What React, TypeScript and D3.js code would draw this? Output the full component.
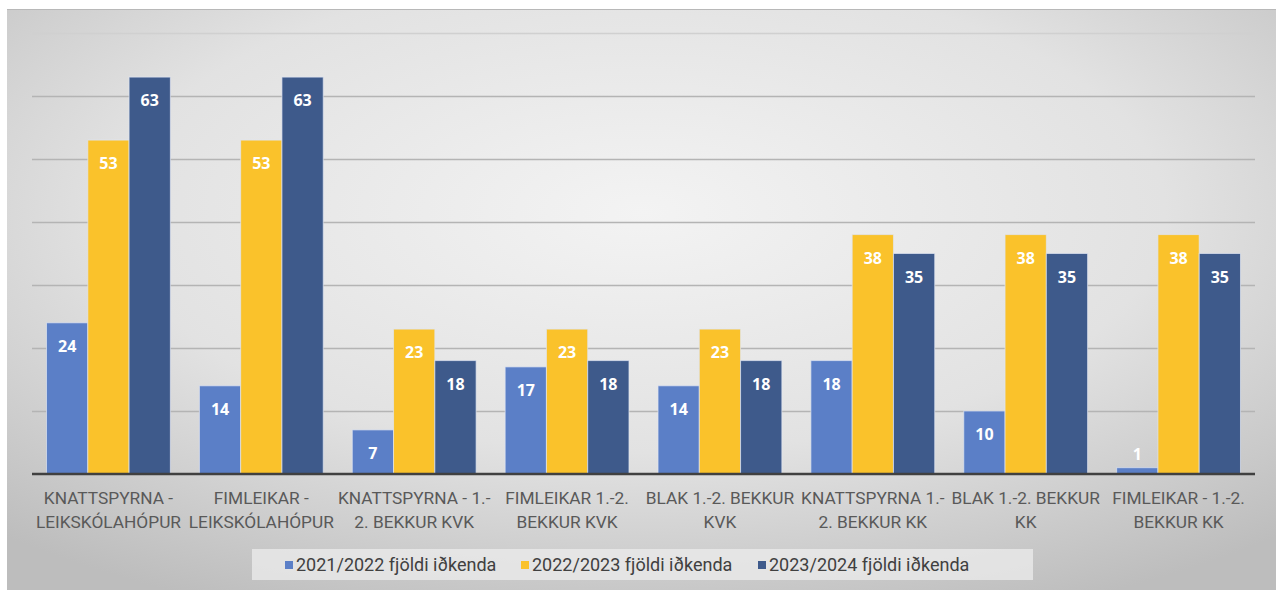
import React from "react";
import * as d3 from "d3";

const categories: string[][] = [
  ["KNATTSPYRNA -", "LEIKSKÓLAHÓPUR"],
  ["FIMLEIKAR -", "LEIKSKÓLAHÓPUR"],
  ["KNATTSPYRNA - 1.-", "2. BEKKUR KVK"],
  ["FIMLEIKAR 1.-2.", "BEKKUR KVK"],
  ["BLAK 1.-2. BEKKUR", "KVK"],
  ["KNATTSPYRNA 1.-", "2. BEKKUR KK"],
  ["BLAK 1.-2. BEKKUR", "KK"],
  ["FIMLEIKAR - 1.-2.", "BEKKUR KK"],
];
const seriesNames = [
  "2021/2022 fjöldi iðkenda",
  "2022/2023 fjöldi iðkenda",
  "2023/2024 fjöldi iðkenda",
];
const values2021 = [24, 14, 7, 17, 14, 18, 10, 1];
const values2022 = [53, 53, 23, 23, 23, 38, 38, 38];
const values2023 = [63, 63, 18, 18, 18, 35, 35, 35];
const gridTicks = [0, 10, 20, 30, 40, 50, 60, 70];
const colors = ["#5b7fc7", "#fac22b", "#3e5a8b"];

const W = 1282;
const H = 590;
const font = "Roboto, 'Open Sans', sans-serif";

export default function App() {
  const series = [values2021, values2022, values2023];
  const keys = categories.map((c) => c.join(" "));
  const x = d3.scaleBand<string>().domain(keys).range([32, 1255]).paddingInner(0.19).paddingOuter(0.095);
  const xs = d3.scaleBand<number>().domain([0, 1, 2]).range([0, x.bandwidth()]).padding(0);
  const y = d3.scaleLinear().domain([0, 70]).range([474, 33]);

  const legendItems = [
    { x: 285, name: seriesNames[0] },
    { x: 521, name: seriesNames[1] },
    { x: 758, name: seriesNames[2] },
  ];

  return (
    <div style={{ position: "absolute", left: 0, top: 0 }}>
      <svg width={W} height={H} style={{ display: "block" }}>
        <defs>
          <radialGradient id="bg" cx="50%" cy="35%" r="75%">
            <stop offset="0%" stopColor="#f3f3f3" />
            <stop offset="55%" stopColor="#e2e2e2" />
            <stop offset="100%" stopColor="#bdbdbd" />
          </radialGradient>
        </defs>
        <rect x={0} y={0} width={W} height={H} fill="#ffffff" />
        <rect x={7} y={9} width={1269} height={581} fill="url(#bg)" />
        <line x1={7} x2={1276} y1={9.5} y2={9.5} stroke="#b8b8b8" strokeWidth={1} />
        {gridTicks.filter((t) => t > 0).map((t) => (
          <line key={t} x1={32} x2={1255} y1={Math.round(y(t)) + 0.5} y2={Math.round(y(t)) + 0.5}
            stroke={t === 70 ? "#d0d0d0" : "#b4b4b4"} strokeWidth={1.5} />
        ))}
        {keys.map((k, ci) => (
          <g key={k}>
            {series.map((vals, si) => {
              const bx = (x(k) as number) + (xs(si) as number);
              const top = y(vals[ci]);
              return (
                <g key={si}>
                  <rect x={bx} y={top} width={xs.bandwidth()} height={474 - top}
                    fill={colors[si]} stroke="#dfe6f2" strokeOpacity={0.7} strokeWidth={1} />
                  <text x={bx + xs.bandwidth() / 2} y={top + (vals[ci] < 3 ? -8 : 29)} textAnchor="middle"
                    fill="#ffffff" fontFamily="'Open Sans', sans-serif" fontWeight={700} fontSize={16}>
                    {vals[ci]}
                  </text>
                </g>
              );
            })}
          </g>
        ))}
        <line x1={32} x2={1255} y1={y(0)} y2={y(0)} stroke="#404040" strokeWidth={2.5} />
        {keys.map((k, ci) => (
          <text key={k} x={(x(k) as number) + x.bandwidth() / 2} textAnchor="middle"
            fill="#595959" fontFamily={font} fontSize={17.3}>
            {categories[ci].map((line, li) => (
              <tspan key={li} x={(x(k) as number) + x.bandwidth() / 2} y={504 + li * 24}>{line}</tspan>
            ))}
          </text>
        ))}
        <rect x={252} y={549} width={781} height={31} fill="#ececec" opacity={0.75} />
        {legendItems.map((it, i) => (
          <g key={i}>
            <rect x={it.x} y={561} width={8} height={8} fill={colors[i]} />
            <text x={it.x + 11} y={571} fill="#404040" fontFamily={font} fontSize={18}>{it.name}</text>
          </g>
        ))}
      </svg>
    </div>
  );
}
